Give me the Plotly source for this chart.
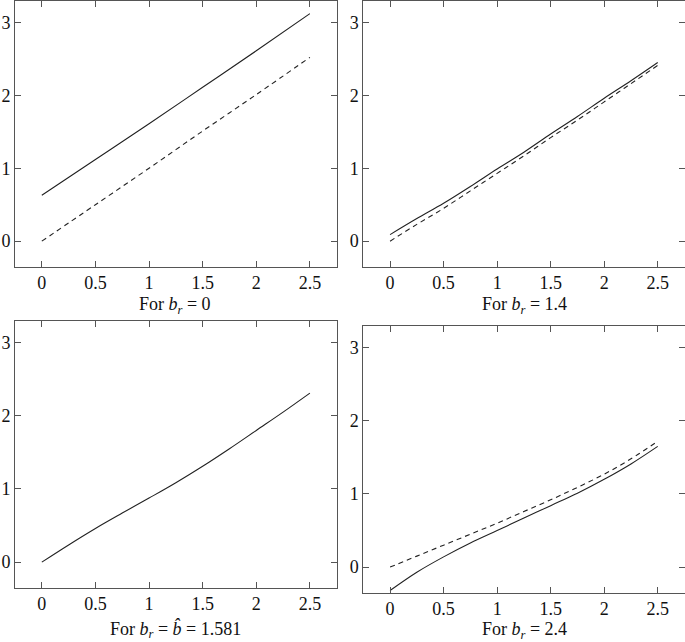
import plotly.graph_objects as go

# ---- data ----
x_p1 = [0, 0.5, 1.0, 1.5, 2.0, 2.5]
solid_p1 = [0.63, 1.12, 1.61, 2.11, 2.61, 3.12]
dashed_p1 = [0.0, 0.50, 1.0, 1.51, 2.01, 2.52]

x_p2 = [0, 0.25, 0.5, 0.75, 1.0, 1.25, 1.5, 1.75, 2.0, 2.25, 2.5]
solid_p2 = [0.09, 0.31, 0.52, 0.75, 0.99, 1.22, 1.47, 1.71, 1.96, 2.20, 2.45]
dashed_p2 = [0.0, 0.23, 0.45, 0.69, 0.93, 1.17, 1.42, 1.66, 1.91, 2.16, 2.41]

x_p3 = [0, 0.25, 0.5, 0.75, 1.0, 1.25, 1.5, 1.75, 2.0, 2.25, 2.5]
solid_p3 = [0.0, 0.235, 0.46, 0.67, 0.875, 1.085, 1.31, 1.55, 1.80, 2.05, 2.31]

x_p4 = [0, 0.25, 0.5, 0.75, 1.0, 1.25, 1.5, 1.75, 2.0, 2.25, 2.5]
solid_p4 = [-0.32, -0.07, 0.14, 0.33, 0.50, 0.67, 0.84, 1.01, 1.20, 1.41, 1.65]
dashed_p4 = [0.0, 0.15, 0.30, 0.45, 0.60, 0.76, 0.92, 1.09, 1.27, 1.48, 1.72]

x_ticks = [0, 0.5, 1, 1.5, 2, 2.5]
x_tick_labels = ["0", "0.5", "1", "1.5", "2", "2.5"]
y_ticks = [0, 1, 2, 3]
y_tick_labels = ["0", "1", "2", "3"]

captions = [
    "For <i>b</i><sub><i>r</i></sub> = 0",
    "For <i>b</i><sub><i>r</i></sub> = 1.4",
    "For <i>b</i><sub><i>r</i></sub> = <i>b\u0302</i> = 1.581",
    "For <i>b</i><sub><i>r</i></sub> = 2.4",
]

W, H = 685, 642
FONT = "Liberation Serif"
LINE = "#222222"
FRAME = "#555555"

# panel boxes in pixels: (left, right, top, bottom)
boxes = [
    (15, 336.7, 0.5, 266.7),
    (363.3, 684.5, 0.5, 266.7),
    (15, 336.7, 320.7, 587.7),
    (363.3, 684.5, 325.7, 592.7),
]
cap_pos = [(175, 305), (524, 305), (175, 629), (524, 630)]

fig = go.Figure()

series = [
    [(x_p1, solid_p1, "solid"), (x_p1, dashed_p1, "5px,4px")],
    [(x_p2, solid_p2, "solid"), (x_p2, dashed_p2, "5px,4px")],
    [(x_p3, solid_p3, "solid")],
    [(x_p4, solid_p4, "solid"), (x_p4, dashed_p4, "5px,4px")],
]

for i, (box, lines) in enumerate(zip(boxes, series)):
    n = "" if i == 0 else str(i + 1)
    l, r, t, b = box
    for xs, ys, dash in lines:
        fig.add_trace(go.Scatter(
            x=xs, y=ys, mode="lines",
            line=dict(color=LINE, width=1.1, dash=dash, shape="spline", smoothing=1.0),
            xaxis="x" + n, yaxis="y" + n, showlegend=False, hoverinfo="skip",
        ))
    axcommon = dict(
        showline=True, linecolor=FRAME, linewidth=1, mirror="ticks",
        ticks="inside", ticklen=6, tickwidth=1, tickcolor=FRAME,
        showgrid=False, zeroline=False, automargin=False,
        tickfont=dict(family=FONT, size=18, color="#111111"),
    )
    fig.update_layout(**{
        "xaxis" + n: dict(
            domain=[l / W, r / W], range=[-0.25, 2.75],
            tickvals=x_ticks, ticktext=x_tick_labels,
            anchor="y" + n, ticklabelstandoff=0, **axcommon),
        "yaxis" + n: dict(
            domain=[(H - b) / H, (H - t) / H], range=[-0.35, 3.3],
            tickvals=y_ticks, ticktext=y_tick_labels,
            anchor="x" + n, ticklabelstandoff=0, **axcommon),
    })
    cx, cy = cap_pos[i]
    fig.add_annotation(
        text=captions[i], xref="paper", yref="paper",
        x=cx / W, y=(H - cy) / H, xanchor="center", yanchor="middle",
        showarrow=False, font=dict(family=FONT, size=18, color="#111111"),
    )

fig.update_layout(
    width=W, height=H,
    margin=dict(l=0, r=0, t=0, b=0),
    paper_bgcolor="white", plot_bgcolor="white",
)

fig.write_html("out.html", config={"displayModeBar": False},
               post_script="document.body.style.margin='0px';document.body.style.overflow='hidden';")
